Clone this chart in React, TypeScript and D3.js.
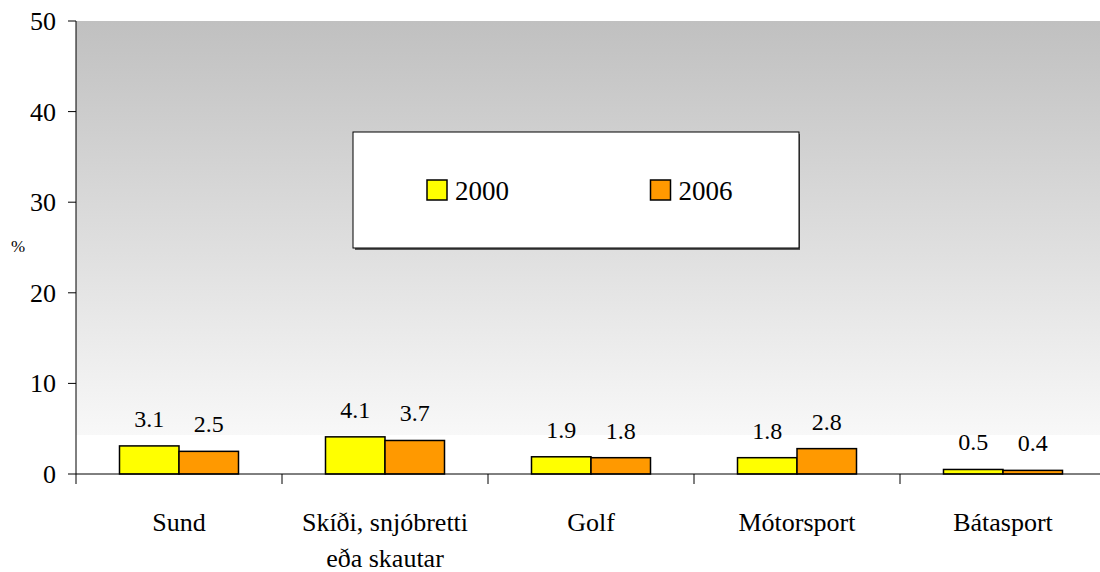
import React from "react";
import * as d3 from "d3";

const categories = ["Sund", "Skíði, snjóbretti|eða skautar", "Golf", "Mótorsport", "Bátasport"];
const series2000 = [3.1, 4.1, 1.9, 1.8, 0.5];
const series2006 = [2.5, 3.7, 1.8, 2.8, 0.4];
const seriesNames = ["2000", "2006"];
const seriesColors = ["#ffff00", "#ff9900"];
const yTicks = [0, 10, 20, 30, 40, 50];

const FONT = "Liberation Serif";

export default function App() {
  const W = 1100, H = 572;
  const left = 76, top = 21, bottom = 474;
  const catW = 206;
  const x = d3.scaleBand().domain(categories).range([left, left + catW * categories.length]).paddingInner(0).paddingOuter(0);
  const y = d3.scaleLinear().domain([0, 50]).range([bottom, top]);
  const barW = 59.5;
  const groupOff = (catW - 2 * barW) / 2;
  const data = [series2000, series2006];
  const ts = (size: number) => ({ fontFamily: FONT, fontSize: size });

  return (
    <svg width={W} height={H} style={{ position: "absolute", left: 0, top: 0 }}>
      <defs>
        <linearGradient id="bg" x1="0" y1="0" x2="0" y2="1">
          <stop offset="0" stopColor="#c0c0c0" />
          <stop offset="1" stopColor="#f8f8f8" />
        </linearGradient>
      </defs>
      <rect x={0} y={0} width={W} height={H} fill="#fff" />
      <rect x={left} y={top} width={W - left} height={y(4.3) - top} fill="url(#bg)" />
      {categories.map((c, i) =>
        data.map((s, k) => {
          const bx = (x(c) as number) + groupOff + k * barW;
          const v = s[i];
          return (
            <g key={c + k}>
              <rect x={bx} y={y(v)} width={barW} height={y(0) - y(v)} fill={seriesColors[k]} stroke="#000" strokeWidth={1.5} />
              <text x={bx + barW / 2} y={y(v) - 19} textAnchor="middle" style={ts(24)}>{v.toFixed(1)}</text>
            </g>
          );
        })
      )}
      <line x1={left} y1={top} x2={left} y2={bottom} stroke="#000" strokeWidth={1} />
      {yTicks.map((t) => (
        <g key={t}>
          <line x1={left - 8} x2={left} y1={y(t)} y2={y(t)} stroke="#000" />
          <text x={56} y={y(t) + 9} textAnchor="end" style={ts(26)}>{t}</text>
        </g>
      ))}
      <text x={18} y={252} textAnchor="middle" style={ts(17)}>%</text>
      <line x1={left} y1={bottom} x2={W} y2={bottom} stroke="#000" strokeWidth={1} />
      {categories.map((c, i) => (
        <line key={"t" + i} x1={(x(c) as number)} x2={(x(c) as number)} y1={bottom} y2={bottom + 10} stroke="#000" />
      ))}
      {categories.map((c) => {
        const lines = c.split("|");
        const cx = (x(c) as number) + catW / 2;
        return (
          <text key={"l" + c} x={cx} textAnchor="middle" style={ts(26)}>
            {lines.map((ln, j) => (
              <tspan key={j} x={cx} y={531 + j * 36}>{ln}</tspan>
            ))}
          </text>
        );
      })}
      <rect x={355} y={134} width={445} height={116} fill="#555" />
      <rect x={353} y={132} width={446} height={116} fill="#fff" stroke="#000" strokeWidth={1} />
      {seriesNames.map((n, k) => {
        const lx = 427 + k * 223.5;
        return (
          <g key={n}>
            <rect x={lx} y={180} width={20} height={20} fill={seriesColors[k]} stroke="#000" strokeWidth={1.5} />
            <text x={lx + 28} y={200} style={ts(27)}>{n}</text>
          </g>
        );
      })}
    </svg>
  );
}
